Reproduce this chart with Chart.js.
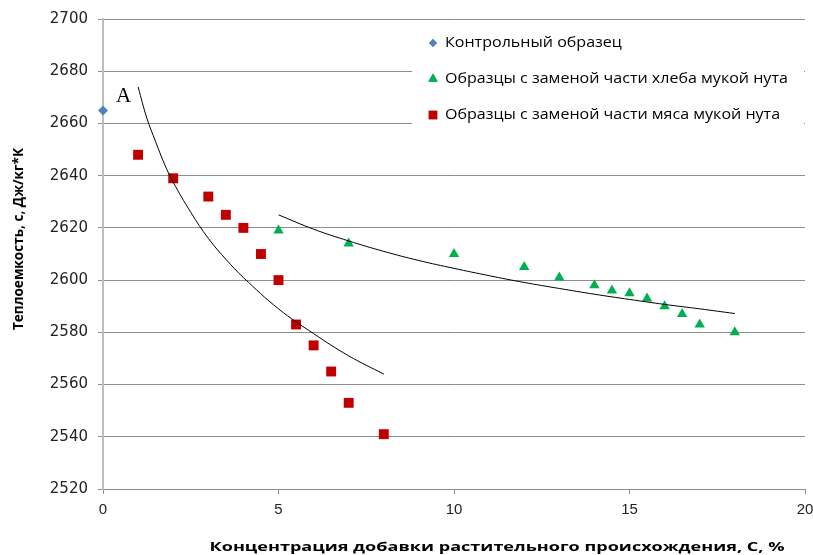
<!DOCTYPE html>
<html>
<head>
<meta charset="utf-8">
<script src="https://cdn.jsdelivr.net/npm/chart.js@4.4.1/dist/chart.umd.min.js"></script>
<style>
  html, body { margin: 0; padding: 0; background: #fff; }
  #wrap { position: relative; width: 813px; height: 555px; }
</style>
</head>
<body>
<div id="wrap"><canvas id="chart" width="813" height="555"></canvas></div>
<script>
// Data
const controlX = [0];
const controlY = [2665];

const breadX = [5, 7, 10, 12, 13, 14, 14.5, 15, 15.5, 16, 16.5, 17, 18];
const breadY = [2619, 2614, 2610, 2605, 2601, 2598, 2596, 2595, 2593, 2590, 2587, 2583, 2580];

const meatX = [1, 2, 3, 3.5, 4, 4.5, 5, 5.5, 6, 6.5, 7, 8];
const meatY = [2648, 2639, 2632, 2625, 2620, 2610, 2600, 2583, 2575, 2565, 2553, 2541];

// trend curves
const meatTrendX = [1, 1.25, 1.5, 1.75, 2, 2.5, 3, 3.5, 4, 5, 6, 7, 8];
const meatTrendY = [2674, 2662, 2653, 2644.5, 2637.5, 2626, 2616, 2608, 2601, 2589, 2579.5, 2571, 2564];

const breadTrendX = [5, 6, 7, 8, 9, 10, 11, 12, 13, 14, 15, 16, 17, 18];
const breadTrendY = [2625, 2619.5, 2615, 2611, 2607.5, 2604.5, 2601.7, 2599.1, 2596.8, 2594.6, 2592.6, 2590.7, 2589, 2587.2];

const xTicks = [0, 5, 10, 15, 20];
const yTicks = [2520, 2540, 2560, 2580, 2600, 2620, 2640, 2660, 2680, 2700];

const legendLabels = [
  'Контрольный образец',
  'Образцы с заменой части хлеба мукой нута',
  'Образцы с заменой части мяса мукой нута'
];
const xTitle = 'Концентрация добавки растительного происхождения, С, %';
const yTitle = 'Теплоемкость, с, Дж/кг*К';
const noteText = 'A';

function pts(xs, ys) {
  return xs.map((x, i) => ({ x: x, y: ys[i] }));
}

// legend, titles and the "A" note drawn on top
const extras = {
  id: 'extras',
  afterDraw(chart) {
    const c = chart.ctx;
    c.save();

    // legend box
    c.fillStyle = '#fff';
    c.fillRect(412, 28, 392, 102);
    const markers = [
      { style: 'rectRot', r: 4, color: '#4f81bd' },
      { style: 'triangle', r: 5.5, color: '#00b050' },
      { style: 'rect', r: 6, color: '#c00000' }
    ];
    c.textBaseline = 'middle';
    legendLabels.forEach((t, i) => {
      const y = 43 + i * 36;
      const m = markers[i];
      c.fillStyle = m.color;
      Chart.helpers.drawPoint(c, { pointStyle: m.style, radius: m.r, borderWidth: 0 }, 433, y);
      c.fill();
      c.save();
      c.translate(445, y);
      c.scale(1.07, 1);
      c.font = '15px "Open Sans"';
      c.fillStyle = '#000';
      c.fillText(t, 0, 0);
      c.restore();
    });

    // "A" note
    c.font = '21px "Liberation Serif"';
    c.textBaseline = 'alphabetic';
    c.fillStyle = '#000';
    c.fillText(noteText, 116, 102);

    // axis titles
    c.textAlign = 'center';
    c.textBaseline = 'middle';
    c.save();
    c.translate(497, 547);
    c.scale(1.39, 1);
    c.font = 'bold 13px "Open Sans"';
    c.fillText(xTitle, 0, 0);
    c.restore();

    c.translate(19, 239);
    c.rotate(-Math.PI / 2);
    c.scale(0.97, 1);
    c.font = 'bold 14px "Open Sans"';
    c.fillText(yTitle, 0, 0);
    c.restore();
  }
};

const ctx = document.getElementById('chart');
new Chart(ctx, {
  type: 'scatter',
  data: {
    datasets: [
      {
        label: 'trend meat',
        type: 'line',
        data: pts(meatTrendX, meatTrendY),
        borderColor: '#000',
        borderWidth: 1,
        pointRadius: 0,
        tension: 0.4,
        fill: false,
        order: 0
      },
      {
        label: 'trend bread',
        type: 'line',
        data: pts(breadTrendX, breadTrendY),
        borderColor: '#000',
        borderWidth: 1,
        pointRadius: 0,
        tension: 0.4,
        fill: false,
        order: 0
      },
      {
        label: legendLabels[0],
        data: pts(controlX, controlY),
        pointStyle: 'rectRot',
        pointRadius: 5,
        backgroundColor: '#4f81bd',
        borderWidth: 0,
        clip: false,
        order: 1
      },
      {
        label: legendLabels[1],
        data: pts(breadX, breadY),
        pointStyle: 'triangle',
        pointRadius: 6,
        backgroundColor: '#00b050',
        borderWidth: 0,
        order: 1
      },
      {
        label: legendLabels[2],
        data: pts(meatX, meatY),
        pointStyle: 'rect',
        pointRadius: 7,
        backgroundColor: '#c00000',
        borderWidth: 0,
        order: 1
      }
    ]
  },
  options: {
    responsive: false,
    animation: false,
    layout: { padding: { top: 18, right: 8, left: 0, bottom: 0 } },
    plugins: {
      legend: { display: false },
      tooltip: { enabled: false }
    },
    scales: {
      x: {
        type: 'linear',
        min: 0,
        max: 20,
        afterFit: s => { s.height = 66; s.paddingLeft = 0; s.paddingRight = 0; },
        afterBuildTicks: s => { s.ticks = xTicks.map(v => ({ value: v })); },
        ticks: {
          font: { family: 'Liberation Sans', size: 15 },
          color: '#222',
          padding: 7,
          callback: v => String(v)
        },
        grid: { drawOnChartArea: false, drawTicks: true, tickLength: 5, color: '#8e8e8e' },
        border: { color: '#8e8e8e', width: 1 }
      },
      y: {
        min: 2520,
        max: 2700,
        afterFit: s => { s.width = 103; },
        afterBuildTicks: s => { s.ticks = yTicks.map(v => ({ value: v })); },
        ticks: {
          font: { family: 'DejaVu Sans', size: 15 },
          color: '#222',
          padding: 10,
          callback: v => String(v)
        },
        grid: { color: '#8e8e8e', lineWidth: 1, tickLength: 5 },
        border: { color: '#bdbdbd', width: 2 }
      }
    }
  },
  plugins: [extras]
});
</script>
</body>
</html>
